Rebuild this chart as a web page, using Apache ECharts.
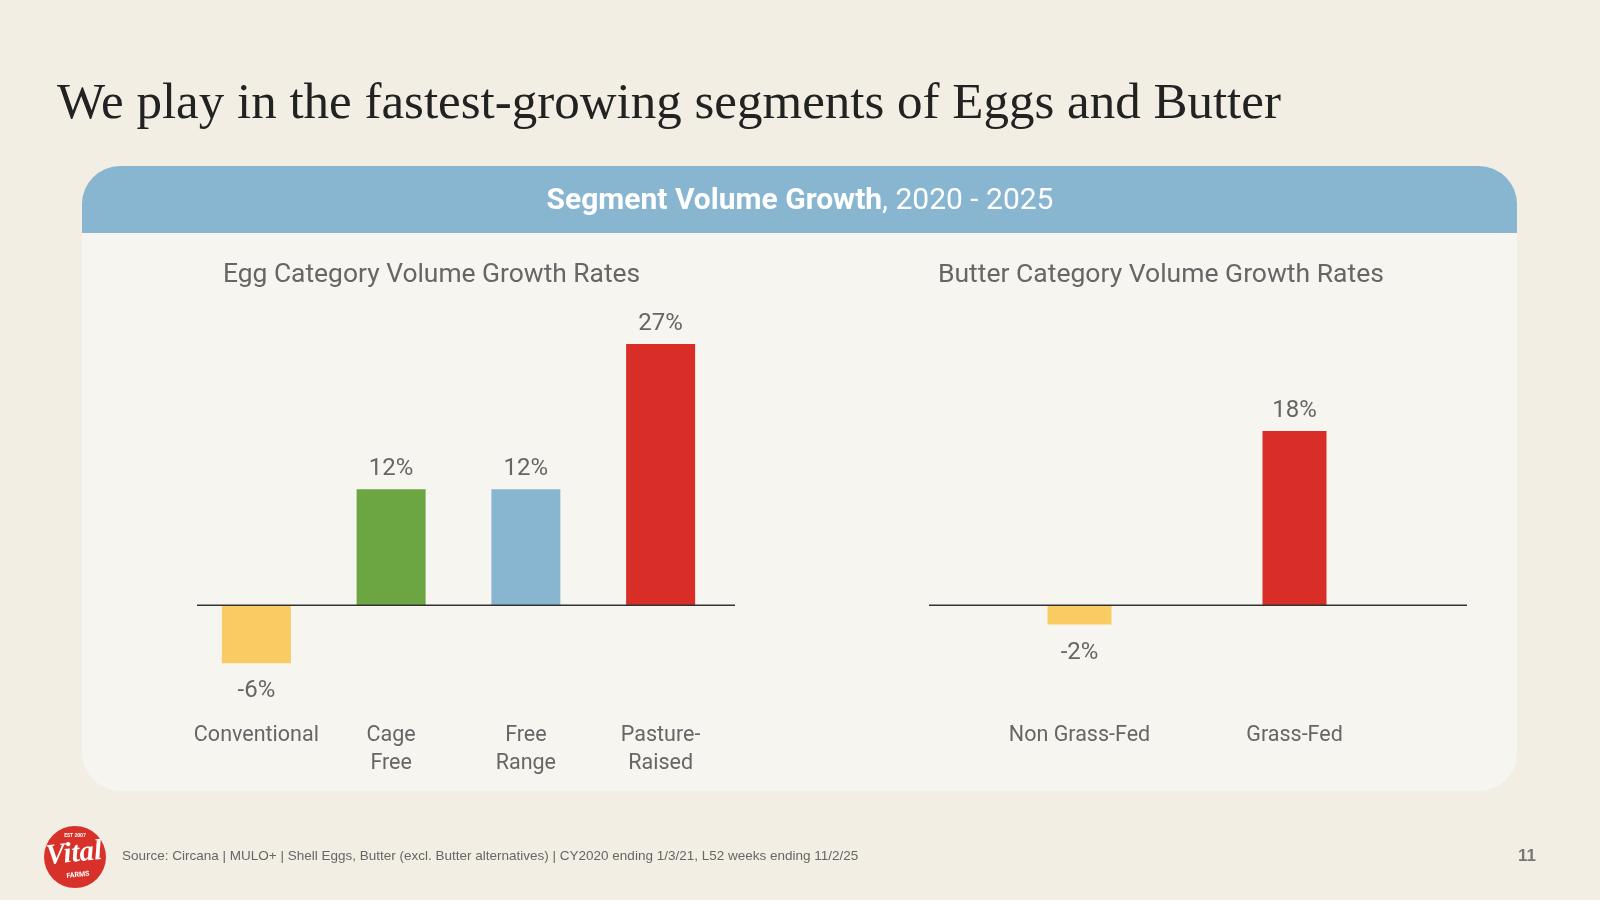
<!DOCTYPE html>
<html>
<head>
<meta charset="utf-8">
<script src="https://cdn.jsdelivr.net/npm/echarts@6/dist/echarts.min.js"></script>
<style>
    html, body { margin: 0; padding: 0; background: #f2eee4; }
    #main { width: 1600px; height: 900px; }
</style>
</head>
<body>
<div id="main"></div>
<script>
// 数据
var eggCats = ['Conventional', 'Cage\nFree', 'Free\nRange', 'Pasture-\nRaised'];
var eggValues = [-6, 12, 12, 27];
var eggColors = ['#f9cb63', '#6ca642', '#88b5cf', '#d92d28'];

var butterCats = ['Non Grass-Fed', 'Grass-Fed'];
var butterValues = [-2, 18];
var butterColors = ['#f9cb63', '#d92d28'];

var textGray = '#666666';
var sans = 'Roboto';

(function() {
    var myChart = echarts.init(document.querySelector('#main'));

    // 正值标签在上，负值标签在下
    var toItems = function(values, colors) {
        return values.map(function(v, i) {
            return {
                value: v,
                itemStyle: { color: colors[i] },
                label: {
                    position: v < 0 ? 'bottom' : 'top',
                    distance: v < 0 ? 16 : 8
                }
            };
        });
    };

    var barLabel = {
        show: true,
        color: textGray,
        fontFamily: sans,
        fontSize: 24,
        formatter: function(p) { return p.value + '%'; }
    };

    var catAxis = function(gridIndex, data) {
        return {
            type: 'category',
            gridIndex: gridIndex,
            data: data,
            axisTick: { show: false },
            axisLine: { show: false },
            axisLabel: {
                color: textGray,
                fontFamily: sans,
                fontSize: 21.5,
                lineHeight: 28,
                margin: 20,
                interval: 0
            }
        };
    };

    var valAxis = function(gridIndex) {
        return {
            type: 'value',
            gridIndex: gridIndex,
            min: -10,
            max: 30,
            show: false
        };
    };

    var option = {
        backgroundColor: '#f2eee4',
        animation: false,
        graphic: [
            { type: 'rect', z: -10, shape: { x: 82, y: 166, width: 1435, height: 625, r: 38 }, style: { fill: '#f7f5f0' } },
            { type: 'rect', z: -9, shape: { x: 82, y: 166, width: 1435, height: 67, r: [38, 38, 0, 0] }, style: { fill: '#88b5cf' } },
            // 零线
            { type: 'line', id: 'eggZero', z: 10, shape: { x1: 197, y1: 605, x2: 735, y2: 605 }, style: { stroke: '#333', lineWidth: 1.5 } },
            { type: 'line', id: 'butterZero', z: 10, shape: { x1: 929, y1: 604, x2: 1467, y2: 604 }, style: { stroke: '#333', lineWidth: 1.5 } },
            // 标志
            { type: 'circle', shape: { cx: 75, cy: 857, r: 31 }, style: { fill: '#d8312a' } },
            { type: 'text', x: 75, y: 836, style: { text: 'EST 2007', fill: '#fff', font: 'bold 5px Roboto', align: 'center', verticalAlign: 'middle' } },
            { type: 'text', x: 74, y: 854, rotation: 0.1, style: { text: 'Vital', fill: '#fff', font: 'italic bold 29px "Liberation Serif"', align: 'center', verticalAlign: 'middle' } },
            { type: 'text', x: 78, y: 875, rotation: 0.1, style: { text: 'FARMS', fill: '#fff', font: 'bold 7px Roboto', align: 'center', verticalAlign: 'middle' } }
        ],
        title: [
            {
                text: 'We play in the fastest-growing segments of Eggs and Butter',
                left: 57, top: 79, padding: 0,
                textStyle: { fontFamily: '"Liberation Serif"', fontWeight: 'normal', fontSize: 51, color: '#222' }
            },
            {
                text: '{b|Segment Volume Growth}{r|, 2020 - 2025}',
                left: 'center', top: 186, padding: 0,
                textStyle: {
                    rich: {
                        b: { fontFamily: sans, fontWeight: 'bold', fontSize: 30, color: '#fff' },
                        r: { fontFamily: sans, fontWeight: 'normal', fontSize: 30, color: '#fff' }
                    }
                }
            },
            {
                text: 'Egg Category Volume Growth Rates',
                left: 223, top: 262, padding: 0,
                textStyle: { fontFamily: sans, fontWeight: 'normal', fontSize: 26.4, color: textGray }
            },
            {
                text: 'Butter Category Volume Growth Rates',
                left: 938, top: 262, padding: 0,
                textStyle: { fontFamily: sans, fontWeight: 'normal', fontSize: 26.5, color: textGray }
            },
            {
                text: 'Source: Circana | MULO+ | Shell Eggs, Butter (excl. Butter alternatives) | CY2020 ending 1/3/21, L52 weeks ending 11/2/25',
                left: 122, top: 849, padding: 0,
                textStyle: { fontFamily: '"Liberation Sans"', fontWeight: 'normal', fontSize: 13.5, color: textGray }
            },
            {
                text: '11',
                left: 1518, top: 848, padding: 0,
                textStyle: { fontFamily: '"Liberation Sans"', fontWeight: 'bold', fontSize: 17, color: '#777' }
            }
        ],
        grid: [
            { left: 189, width: 539, top: 315, height: 387 },
            { left: 972, width: 430, top: 315, height: 387 }
        ],
        xAxis: [catAxis(0, eggCats), catAxis(1, butterCats)],
        yAxis: [valAxis(0), valAxis(1)],
        series: [
            {
                name: 'Egg',
                type: 'bar',
                xAxisIndex: 0,
                yAxisIndex: 0,
                barWidth: 69,
                label: barLabel,
                data: toItems(eggValues, eggColors)
            },
            {
                name: 'Butter',
                type: 'bar',
                xAxisIndex: 1,
                yAxisIndex: 1,
                barWidth: 64,
                label: barLabel,
                data: toItems(butterValues, butterColors)
            }
        ]
    };
    myChart.setOption(option);

    // 零线比网格更宽，y 由坐标轴换算
    var eggY0 = myChart.convertToPixel({ gridIndex: 0 }, [0, 0])[1];
    var butterY0 = myChart.convertToPixel({ gridIndex: 1 }, [0, 0])[1];
    myChart.setOption({
        graphic: [
            { id: 'eggZero', shape: { y1: eggY0, y2: eggY0 } },
            { id: 'butterZero', shape: { y1: butterY0, y2: butterY0 } }
        ]
    });
})();
</script>
</body>
</html>
